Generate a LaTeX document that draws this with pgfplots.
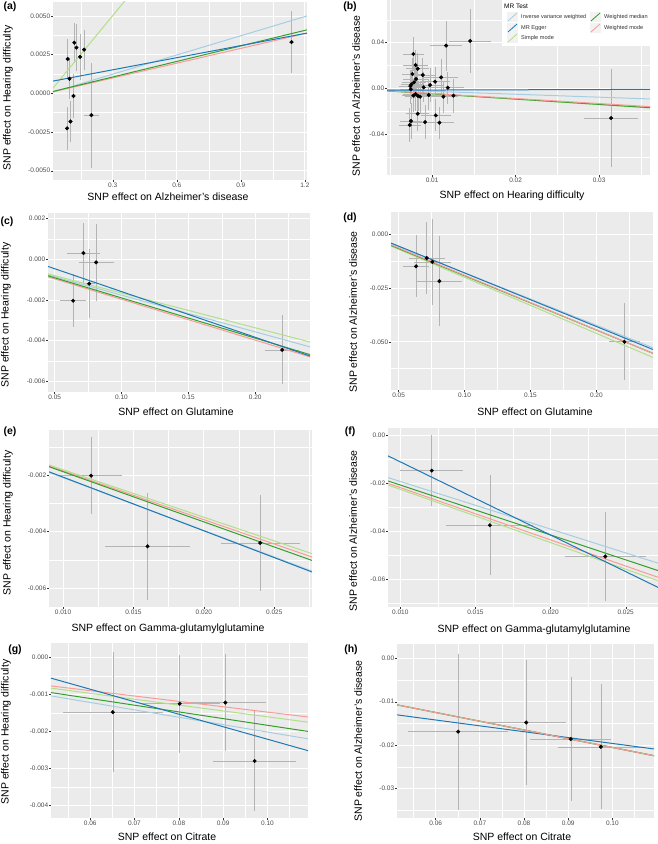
\documentclass[border=0pt]{standalone}
\usepackage{pgfplots}
\pgfplotsset{compat=1.18}
\usepackage{fontspec}
\setmainfont{Liberation Sans}
\definecolor{panelbg}{HTML}{EBEBEB}
\definecolor{ticklab}{HTML}{4D4D4D}
\definecolor{tickgrey}{HTML}{333333}
\definecolor{errgrey}{HTML}{B4B4B4}
\definecolor{ivw}{HTML}{A6CEE3}
\definecolor{egger}{HTML}{1F78B4}
\definecolor{smode}{HTML}{B2DF8A}
\definecolor{wmed}{HTML}{33A02C}
\definecolor{wmode}{HTML}{FB9A99}
\pgfplotsset{
 mr/.style={
  scale only axis, anchor=south west,
  axis background/.style={fill=panelbg},
  axis line style={draw=none},
  tick pos=left, tick align=outside,
  major tick length=1.6pt, minor tick length=0pt,
  tick style={draw=tickgrey, line width=0.4pt},
  grid=both,
  major grid style={draw=white, line width=0.8pt},
  minor grid style={draw=white, line width=0.4pt},
  scaled ticks=false,
  tick label style={font=\fontsize{6.5}{7}\selectfont, text=ticklab},
  xticklabel style={inner sep=1pt},
  yticklabel style={inner sep=1pt},
 },
 pts/.style={only marks, mark=*, mark size=1.8pt, color=black,
  error bars/x dir=both, error bars/x explicit,
  error bars/y dir=both, error bars/y explicit,
  error bars/error mark=none,
  error bars/error bar style={draw=errgrey, line width=0.6pt}},
 ln/.style={line width=1pt, #1},
}
\newcommand{\albl}[1]{\fontsize{10.5}{12}\selectfont #1}
\begin{document}
\begin{tikzpicture}[x=1pt,y=1pt]
\useasboundingbox (0,0) rectangle (658,844);

% ---------- (a)
\begin{axis}[mr, at={(53pt,664pt)}, width=254pt, height=178pt,
  xmin=0.02, xmax=1.21, ymin=-0.0056, ymax=0.0059,
  xtick={0.3,0.6,0.9,1.2}, xticklabels={0.3,0.6,0.9,1.2},
  minor xtick={0.15,0.45,0.75,1.05},
  ytick={-0.005,-0.0025,0,0.0025,0.005},
  yticklabels={-0.0050,-0.0025,0.0000,0.0025,0.0050},
  minor ytick={-0.00375,-0.00125,0.00125,0.00375}]
\addplot[pts] table[x=x,y=y,x error=ex,y error=ey] {
x y ex ey
0.089 0.00222 0.006 0.0013
0.097 0.00094 0.006 0.0013
0.120 0.00327 0.006 0.0013
0.130 0.00295 0.006 0.0015
0.147 0.00235 0.006 0.0015
0.166 0.00282 0.010 0.0013
0.116 -0.00017 0.006 0.0014
0.102 -0.00182 0.006 0.0013
0.086 -0.00226 0.006 0.0014
0.200 -0.00141 0.035 0.0034
1.1375 0.00331 0.012 0.0020
};
\addplot[ln=ivw] coordinates {(0.02,0.00008) (1.21,0.0050)};
\addplot[ln=smode] coordinates {(0.02,0.000335) (0.40,0.0067)};
\addplot[ln=wmode] coordinates {(0.02,0.0001) (1.21,0.00389)};
\addplot[ln=wmed] coordinates {(0.02,0.00012) (1.21,0.0041)};
\addplot[ln=egger] coordinates {(0.02,0.00079) (1.21,0.00389)};
\end{axis}

% ---------- (b)
\begin{axis}[mr, at={(387pt,669pt)}, width=263pt, height=175pt,
  xmin=0.0046, xmax=0.0361, ymin=-0.0759, ymax=0.0774,
  xtick={0.01,0.02,0.03}, xticklabels={0.01,0.02,0.03},
  minor xtick={0.005,0.015,0.025,0.035},
  ytick={-0.04,0,0.04}, yticklabels={-0.04,0.00,0.04},
  minor ytick={-0.06,-0.02,0.02,0.06}]
\addplot[pts] table[x=x,y=y,x error=ex,y error=ey] {
x y ex ey
0.01456 0.0415 0.0025 0.028
0.01168 0.0374 0.0019 0.022
0.00776 0.0301 0.0013 0.015
0.00804 0.0204 0.0015 0.013
0.00828 0.0172 0.0014 0.014
0.00764 0.0126 0.0013 0.014
0.00888 0.0117 0.0015 0.015
0.00808 0.0082 0.0016 0.013
0.01108 0.0096 0.0020 0.016
0.01036 0.0058 0.0018 0.013
0.00784 0.0053 0.0014 0.014
0.00752 0.0035 0.0013 0.013
0.00740 0.0020 0.0014 0.014
0.00976 0.0029 0.0016 0.015
0.00900 0.0009 0.0015 0.013
0.01188 0.0006 0.0020 0.014
0.00745 -0.0008 0.0013 0.013
0.00776 -0.0064 0.0014 0.014
0.00804 -0.0050 0.0015 0.015
0.00832 -0.0067 0.0016 0.013
0.00856 -0.0073 0.0015 0.014
0.00960 -0.0058 0.0017 0.013
0.01136 -0.0073 0.0018 0.014
0.01256 -0.0064 0.0020 0.015
0.00828 -0.0222 0.0014 0.015
0.01044 -0.0237 0.0018 0.014
0.00748 -0.0286 0.0013 0.016
0.00916 -0.0295 0.0016 0.015
0.01088 -0.0301 0.0018 0.014
0.00732 -0.0321 0.0013 0.015
0.03144 -0.0260 0.0032 0.043
};
\addplot[ln=ivw] coordinates {(0.0046,-0.0012) (0.0361,-0.0093)};
\addplot[ln=smode] coordinates {(0.0046,-0.0022) (0.0361,-0.0172)};
\addplot[ln=wmed] coordinates {(0.0046,-0.0022) (0.0361,-0.0169)};
\addplot[ln=wmode] coordinates {(0.0046,-0.0021) (0.0361,-0.0160)};
\addplot[ln=egger] coordinates {(0.0046,-0.0016) (0.0361,-0.0009)};
\end{axis}

% legend of (b)
\fill[white] (502,798) rectangle (656,844);
\node[anchor=west, inner sep=0pt, font=\fontsize{6.5}{7}\selectfont] at (504,838) {MR Test};
\foreach \kx/\ky/\col in {507/827/ivw, 507/816/egger, 507/806/smode, 590/827/wmed, 590/816/wmode}{
  \fill[black!5] (\kx,\ky-5) rectangle (\kx+11,\ky+5);
  \draw[\col, line width=0.8pt] (\kx+1,\ky-4) -- (\kx+10,\ky+4);
}
\begin{scope}[every node/.style={anchor=west, inner sep=0pt, font=\fontsize{5.6}{6}\selectfont, text=black!80}]
\node at (521,827) {Inverse variance weighted};
\node at (521,816) {MR Egger};
\node at (521,806) {Simple mode};
\node at (604,827) {Weighted median};
\node at (604,816) {Weighted mode};
\end{scope}

% ---------- (c)
\begin{axis}[mr, at={(48pt,452pt)}, width=262pt, height=179pt,
  xmin=0.045, xmax=0.241, ymin=-0.00653, ymax=0.00228,
  xtick={0.05,0.10,0.15,0.20}, xticklabels={0.05,0.10,0.15,0.20},
  minor xtick={0.075,0.125,0.175,0.225},
  ytick={-0.006,-0.004,-0.002,0,0.002},
  yticklabels={-0.006,-0.004,-0.002,0.000,0.002},
  minor ytick={-0.005,-0.003,-0.001,0.001}]
\addplot[pts] table[x=x,y=y,x error=ex,y error=ey] {
x y ex ey
0.0715 0.00031 0.0125 0.0015
0.0810 -0.00015 0.013 0.0019
0.0758 -0.0012 0.004 0.0017
0.0638 -0.00204 0.010 0.0013
0.2202 -0.00446 0.0125 0.0017
};
\addplot[ln=ivw] coordinates {(0.045,-0.00077) (0.241,-0.00431)};
\addplot[ln=smode] coordinates {(0.045,-0.00072) (0.241,-0.00407)};
\addplot[ln=wmode] coordinates {(0.045,-0.00086) (0.241,-0.0048)};
\addplot[ln=wmed] coordinates {(0.045,-0.00081) (0.241,-0.00469)};
\addplot[ln=egger] coordinates {(0.045,-0.00035) (0.241,-0.00476)};
\end{axis}

% ---------- (d)
\begin{axis}[mr, at={(391pt,454pt)}, width=262pt, height=178pt,
  xmin=0.0442, xmax=0.243, ymin=-0.0725, ymax=0.0106,
  xtick={0.05,0.10,0.15,0.20}, xticklabels={0.05,0.10,0.15,0.20},
  minor xtick={0.075,0.125,0.175,0.225},
  ytick={-0.05,-0.025,0}, yticklabels={-0.050,-0.025,0.000},
  minor ytick={-0.0625,-0.0375,-0.0125}]
\addplot[pts] table[x=x,y=y,x error=ex,y error=ey] {
x y ex ey
0.0632 -0.01475 0.010 0.0144
0.0713 -0.0109 0.0137 0.017
0.0756 -0.0127 0.014 0.020
0.0809 -0.0217 0.017 0.021
0.2213 -0.0500 0.012 0.018
};
\addplot[ln=smode] coordinates {(0.0442,-0.0053) (0.243,-0.0573)};
\addplot[ln=wmed] coordinates {(0.0442,-0.0050) (0.243,-0.0554)};
\addplot[ln=wmode] coordinates {(0.0442,-0.0047) (0.243,-0.0554)};
\addplot[ln=ivw] coordinates {(0.0442,-0.0041) (0.243,-0.0528)};
\addplot[ln=egger] coordinates {(0.0442,-0.0039) (0.243,-0.0536)};
\end{axis}

% ---------- (e)
\begin{axis}[mr, at={(49pt,237pt)}, width=263pt, height=177pt,
  xmin=0.0090, xmax=0.02768, ymin=-0.00667, ymax=-0.0004,
  xtick={0.010,0.015,0.020,0.025}, xticklabels={0.010,0.015,0.020,0.025},
  minor xtick={0.0125,0.0175,0.0225,0.0275},
  ytick={-0.006,-0.004,-0.002}, yticklabels={-0.006,-0.004,-0.002},
  minor ytick={-0.005,-0.003,-0.001}]
\addplot[pts] table[x=x,y=y,x error=ex,y error=ey] {
x y ex ey
0.01199 -0.00202 0.0022 0.00136
0.0160 -0.00452 0.0030 0.0019
0.0240 -0.0044 0.0028 0.0017
};
\addplot[ln=ivw] coordinates {(0.0090,-0.0019) (0.02768,-0.0054)};
\addplot[ln=egger] coordinates {(0.0090,-0.00188) (0.02768,-0.00543)};
\addplot[ln=smode] coordinates {(0.0090,-0.00164) (0.02768,-0.00478)};
\addplot[ln=wmode] coordinates {(0.0090,-0.00168) (0.02768,-0.0049)};
\addplot[ln=wmed] coordinates {(0.0090,-0.0017) (0.02768,-0.00502)};
\end{axis}

% ---------- (f)
\begin{axis}[mr, at={(388pt,237pt)}, width=270pt, height=179pt,
  xmin=0.00918, xmax=0.02715, ymin=-0.0716, ymax=0.0031,
  xtick={0.010,0.015,0.020,0.025}, xticklabels={0.010,0.015,0.020,0.025},
  minor xtick={0.0125,0.0175,0.0225},
  ytick={-0.06,-0.04,-0.02,0}, yticklabels={-0.06,-0.04,-0.02,0.00},
  minor ytick={-0.07,-0.05,-0.03,-0.01}]
\addplot[pts] table[x=x,y=y,x error=ex,y error=ey] {
x y ex ey
0.01209 -0.01469 0.0021 0.0147
0.01596 -0.0375 0.0029 0.0208
0.02364 -0.0505 0.0027 0.0185
};
\addplot[ln=ivw] coordinates {(0.00918,-0.0176) (0.02715,-0.0533)};
\addplot[ln=smode] coordinates {(0.00918,-0.0207) (0.02715,-0.0606)};
\addplot[ln=wmode] coordinates {(0.00918,-0.0200) (0.02715,-0.0592)};
\addplot[ln=wmed] coordinates {(0.00918,-0.0190) (0.02715,-0.0564)};
\addplot[ln=egger] coordinates {(0.00918,-0.00853) (0.02715,-0.0634)};
\end{axis}

% ---------- (g)
\begin{axis}[mr, at={(51pt,26pt)}, width=257pt, height=175pt,
  xmin=0.05115, xmax=0.10915, ymin=-0.00434, ymax=0.00039,
  xtick={0.06,0.07,0.08,0.09,0.10}, xticklabels={0.06,0.07,0.08,0.09,0.10},
  minor xtick={0.055,0.065,0.075,0.085,0.095,0.105},
  ytick={-0.004,-0.003,-0.002,-0.001,0},
  yticklabels={-0.004,-0.003,-0.002,-0.001,0.000},
  minor ytick={-0.0035,-0.0025,-0.0015,-0.0005}]
\addplot[pts] table[x=x,y=y,x error=ex,y error=ey] {
x y ex ey
0.0651 -0.00148 0.0113 0.00163
0.0802 -0.00125 0.0090 0.00132
0.0905 -0.00122 0.0092 0.0013
0.0971 -0.0028 0.0094 0.00134
};
\addplot[ln=ivw] coordinates {(0.05115,-0.00104) (0.10915,-0.0022)};
\addplot[ln=wmed] coordinates {(0.05115,-0.00095) (0.10915,-0.0020)};
\addplot[ln=smode] coordinates {(0.05115,-0.00083) (0.10915,-0.00175)};
\addplot[ln=wmode] coordinates {(0.05115,-0.00077) (0.10915,-0.00161)};
\addplot[ln=egger] coordinates {(0.05115,-0.00056) (0.10915,-0.00252)};
\end{axis}

% ---------- (h)
\begin{axis}[mr, at={(397pt,26pt)}, width=257pt, height=174pt,
  xmin=0.05125, xmax=0.10943, ymin=-0.0368, ymax=0.0033,
  xtick={0.06,0.07,0.08,0.09,0.10}, xticklabels={0.06,0.07,0.08,0.09,0.10},
  minor xtick={0.055,0.065,0.075,0.085,0.095,0.105},
  ytick={-0.03,-0.02,-0.01,0}, yticklabels={-0.03,-0.02,-0.01,0.00},
  minor ytick={-0.035,-0.025,-0.015,-0.005}]
\addplot[pts] table[x=x,y=y,x error=ex,y error=ey] {
x y ex ey
0.0651 -0.0169 0.0113 0.018
0.0805 -0.0148 0.0090 0.0144
0.0906 -0.0186 0.0092 0.0142
0.0974 -0.0204 0.0096 0.0144
};
\addplot[ln=ivw] coordinates {(0.05125,-0.01075) (0.10943,-0.02248)};
\addplot[ln=smode] coordinates {(0.05125,-0.01070) (0.10943,-0.02240)};
\addplot[ln=wmed] coordinates {(0.05125,-0.01072) (0.10943,-0.02244)};
\addplot[ln=egger] coordinates {(0.05125,-0.01303) (0.10943,-0.02089)};
\addplot[ln=wmode] coordinates {(0.05125,-0.01072) (0.10943,-0.02244)};
\end{axis}

% ---------- axis titles and panel letters
\begin{scope}[every node/.style={inner sep=0pt, font=\albl{}}]
\node at (168,647) {SNP effect on Alzheimer's disease};
\node at (512,648) {SNP effect on Hearing difficulty};
\node at (176,432) {SNP effect on Glutamine};
\node at (535,432) {SNP effect on Glutamine};
\node at (168,215) {SNP effect on Gamma-glutamylglutamine};
\node at (534,214) {SNP effect on Gamma-glutamylglutamine};
\node at (167,7) {SNP effect on Citrate};
\node at (522,7) {SNP effect on Citrate};
\node[rotate=90] at (8,746) {SNP effect on Hearing difficulty};
\node[rotate=90] at (356,748) {SNP effect on Alzheimer's disease};
\node[rotate=90] at (6,529) {SNP effect on Hearing difficulty};
\node[rotate=90] at (353,532) {SNP effect on Alzheimer's disease};
\node[rotate=90] at (8,321) {SNP effect on Hearing difficulty};
\node[rotate=90] at (353,313) {SNP effect on Alzheimer's disease};
\node[rotate=90] at (6,112) {SNP effect on Hearing difficulty};
\node[rotate=90] at (358,103) {SNP effect on Alzheimer's disease};
\end{scope}
\begin{scope}[every node/.style={inner sep=0pt, font=\fontsize{10.5}{12}\selectfont\bfseries}]
\node at (10,837) {(a)};
\node at (350,837) {(b)};
\node at (7,622) {(c)};
\node at (350,626) {(d)};
\node at (10,412) {(e)};
\node at (350,412) {(f)};
\node at (15,194) {(g)};
\node at (351,194) {(h)};
\end{scope}
\end{tikzpicture}
\end{document}
